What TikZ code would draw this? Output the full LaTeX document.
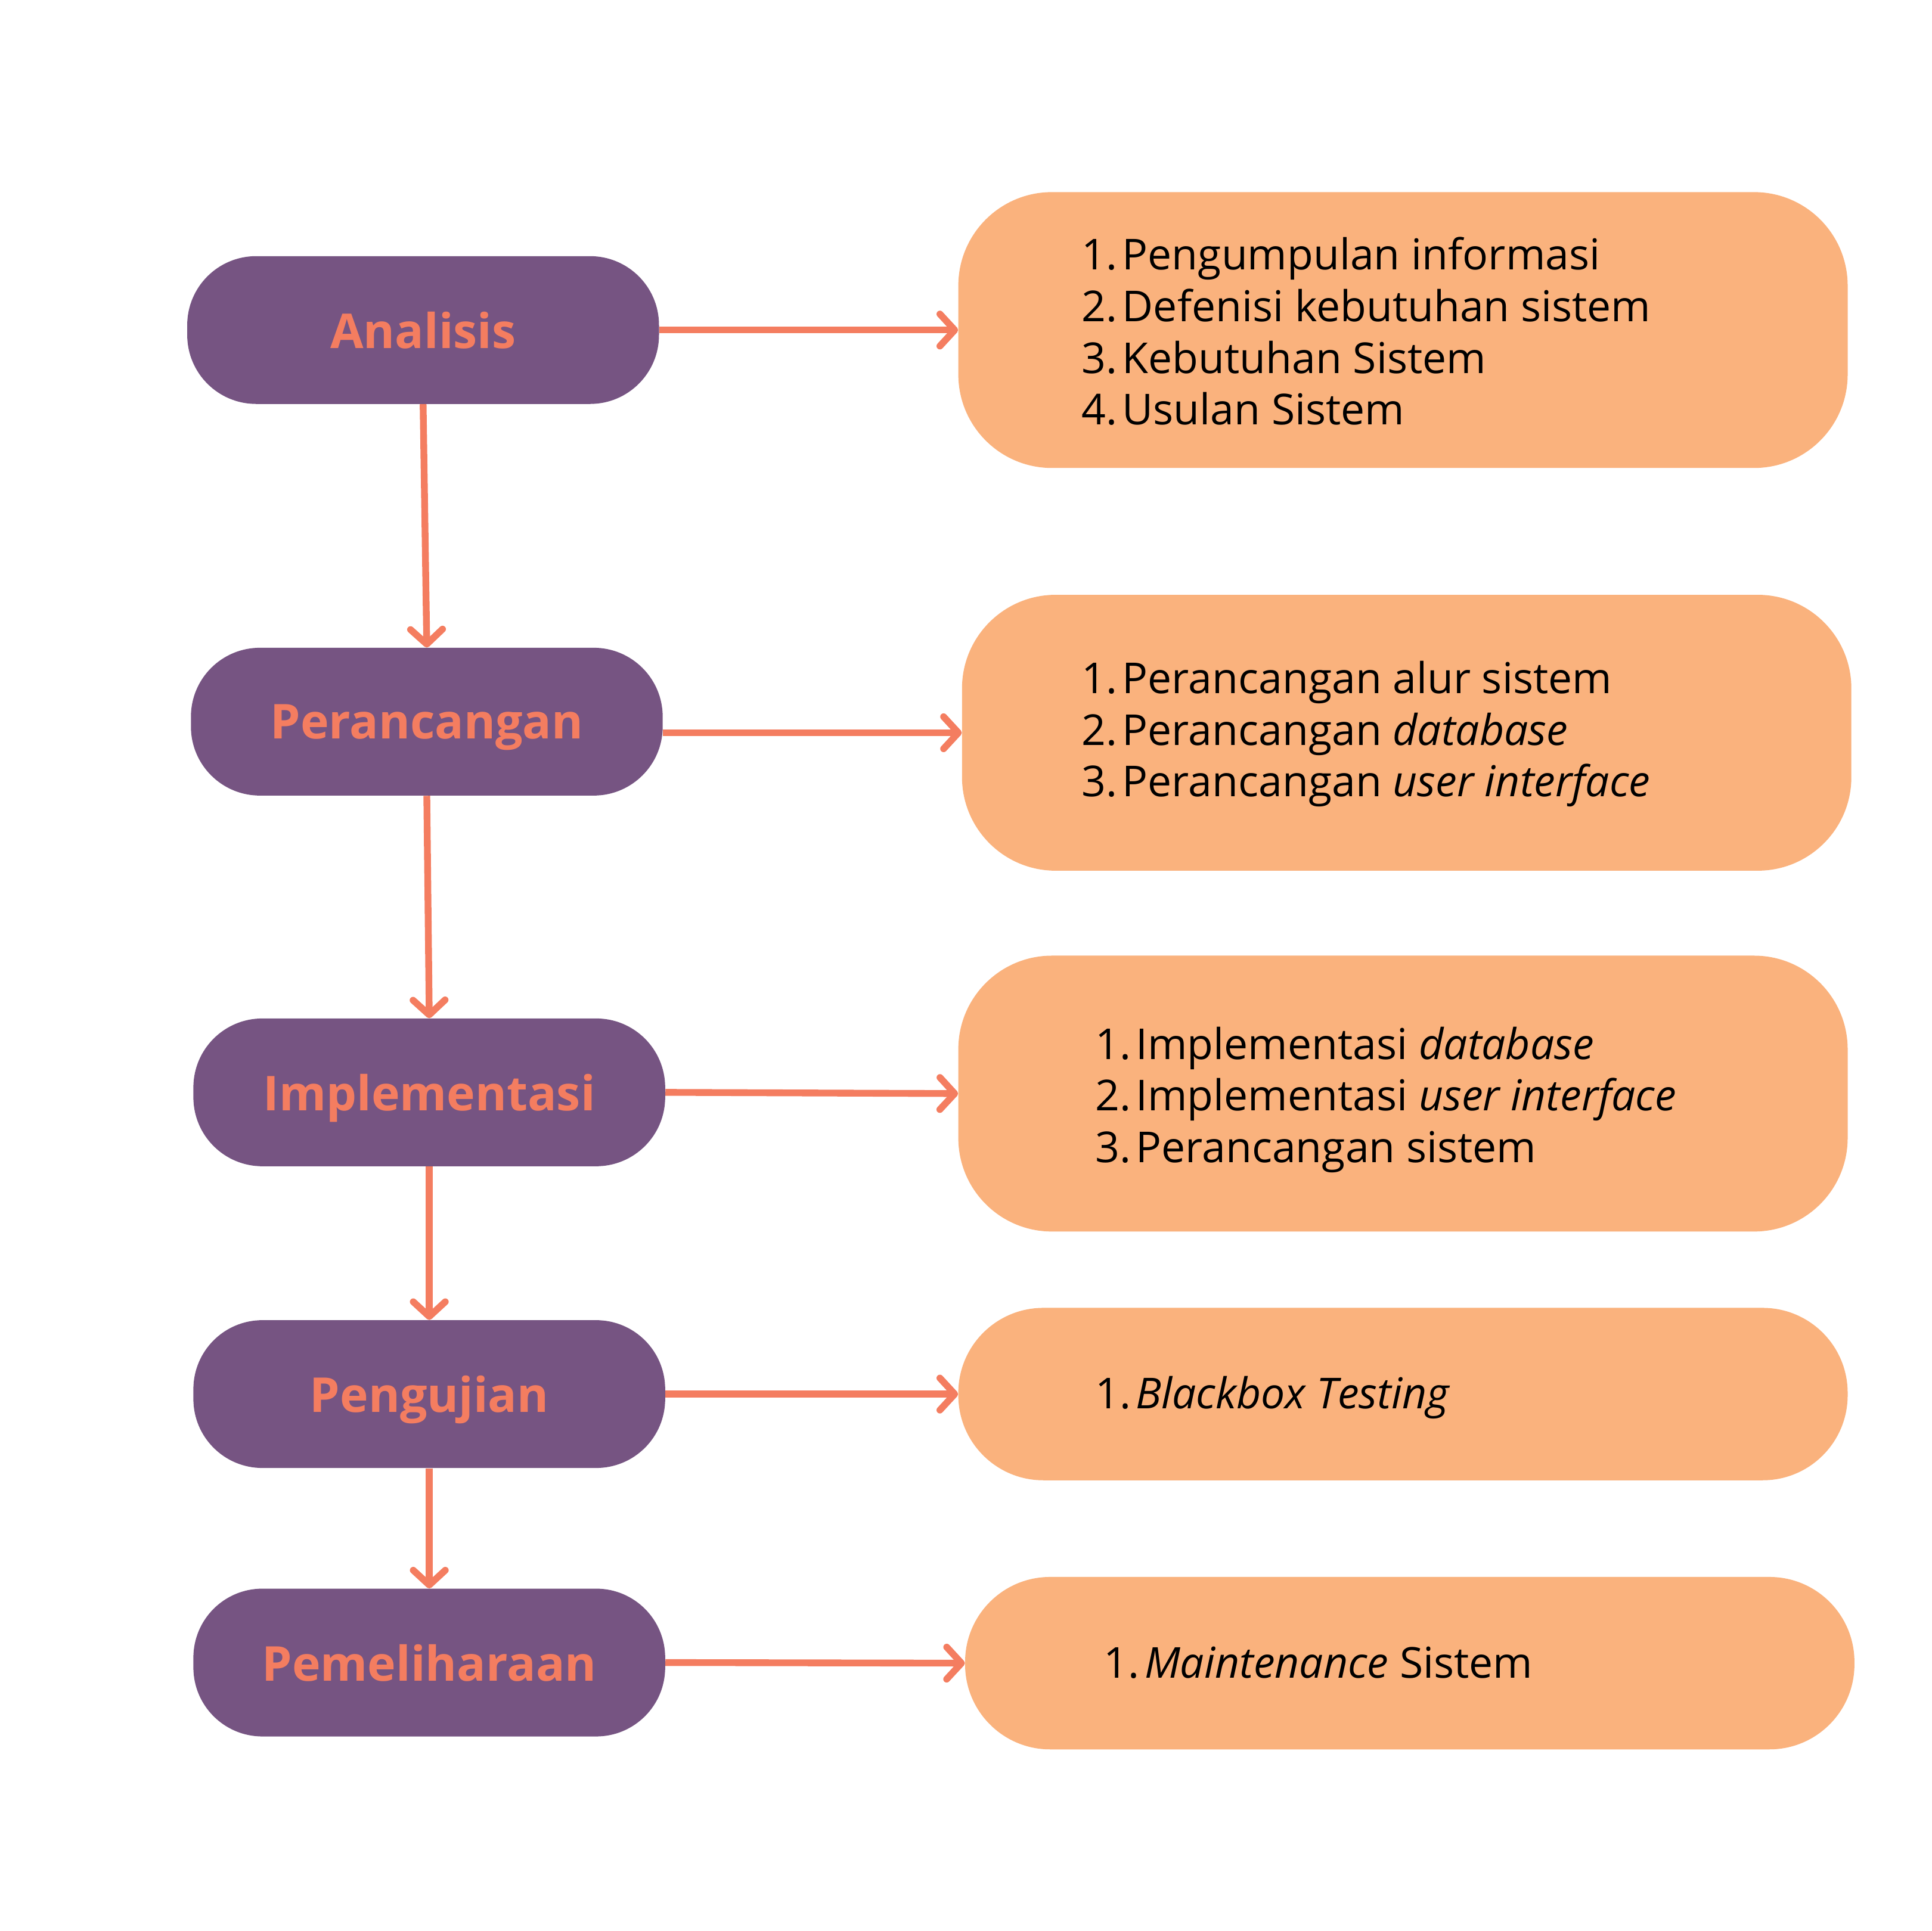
\documentclass[tikz,border=0pt]{standalone}
\usepackage{fontspec}
\setmainfont{Open Sans}
\usetikzlibrary{arrows.meta}
\definecolor{pillc}{HTML}{765482}
\definecolor{boxc}{HTML}{FAB27D}
\definecolor{salmon}{HTML}{F47D60}
\newcommand\itemline[2]{\makebox[33pt][l]{#1}#2}
\begin{document}
\begin{tikzpicture}[x=1pt,y=-1pt,
  pillbox/.style={fill=pillc, rounded corners=56pt, minimum width=383pt, minimum height=120pt, inner sep=0pt, text=salmon, text depth=0pt, font=\fontsize{39}{44}\selectfont\bfseries},
  tallbox/.style={fill=boxc, rounded corners=76pt, minimum width=722pt, minimum height=224pt, inner sep=0pt},
  shortbox/.style={fill=boxc, rounded corners=69pt, minimum width=722pt, minimum height=140pt, inner sep=0pt},
  infotext/.style={anchor=west, align=left, inner sep=0pt, font=\fontsize{34.6}{42}\selectfont, text=black},
  flow/.style={draw=salmon, line width=5.5pt, -{Straight Barb[length=12pt,width=26pt,round]}}]
\useasboundingbox[fill=white] (0,0) rectangle (1568,1568);

\node[pillbox] (p1) at (343.5,268) {Analisis};
\node[pillbox] (p2) at (346.5,586) {Perancangan};
\node[pillbox] (p3) at (348.5,887) {Implementasi};
\node[pillbox] (p4) at (348.5,1132) {Pengujian};
\node[pillbox] (p5) at (348.5,1350) {Pemeliharaan};

\node[tallbox] (b1) at (1139,268) {};
\node[tallbox] (b2) at (1142,595) {};
\node[tallbox] (b3) at (1139,888) {};
\node[shortbox] (b4) at (1139,1132) {};
\node[shortbox] (b5) at (1144.5,1350.5) {};

\node[infotext] (t1) at (878,269) {\itemline{1.}{Pengumpulan informasi}\\\itemline{2.}{Defenisi kebutuhan sistem}\\\itemline{3.}{Kebutuhan Sistem}\\\itemline{4.}{Usulan Sistem}};
\node[infotext] (t2) at (878,596) {\itemline{1.}{Perancangan alur sistem}\\\itemline{2.}{Perancangan \textit{database}}\\\itemline{3.}{Perancangan \textit{user interface}}};
\node[infotext] (t3) at (889,893) {\itemline{1.}{Implementasi \textit{database}}\\\itemline{2.}{Implementasi \textit{user interface}}\\\itemline{3.}{Perancangan sistem}};
\node[infotext] (t4) at (889,1135) {\itemline{1.}{\textit{Blackbox Testing}}};
\node[infotext] (t5) at (896,1350) {\itemline{1.}{\textit{Maintenance} Sistem}};

\draw[flow] (p1.south) -- (p2.north);
\draw[flow] (p2.south) -- (p3.north);
\draw[flow] (p3.south) -- (p4.north);
\draw[flow] (p4.south) -- (p5.north);

\draw[flow] (p1.east) -- (b1.west);
\draw[flow] (b2.west -| p2.east) -- (b2.west);
\draw[flow] (p3.east) -- (b3.west);
\draw[flow] (p4.east) -- (b4.west);
\draw[flow] (p5.east) -- (b5.west);
\end{tikzpicture}
\end{document}
